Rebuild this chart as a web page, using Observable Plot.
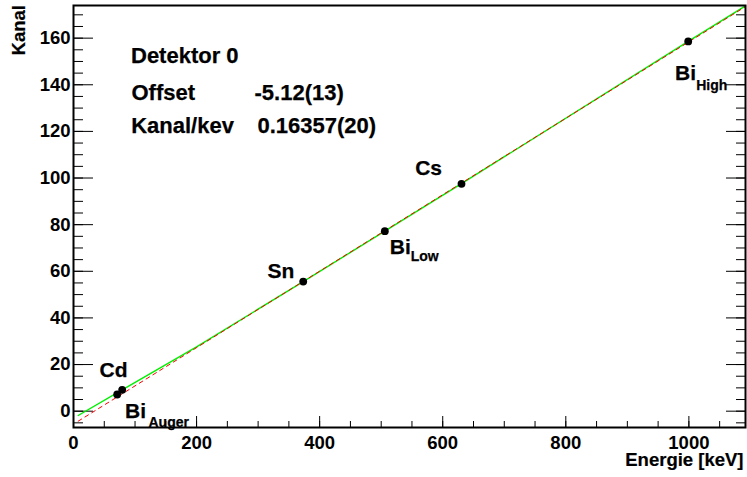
<!DOCTYPE html>
<html><head><meta charset="utf-8">
<script src="https://cdn.jsdelivr.net/npm/d3@7"></script>
<script src="https://cdn.jsdelivr.net/npm/@observablehq/plot@0.6"></script>
<style>html,body{margin:0;padding:0;background:#fff}#chart svg{display:block}</style>
</head><body><div id="chart"></div>
<script>
// ---- data ----
const sourceNames = ["Bi_Auger", "Cd", "Sn", "Bi_Low", "Cs", "Bi_High"];
const energies   = [71.0, 79.1, 373.3, 505.9, 630.5, 998.9];
const channels   = [7.15, 9.17, 55.6, 77.2, 97.5, 158.6];
const labelMain  = ["Bi", "Cd", "Sn", "Bi", "Cs", "Bi"];
const labelSub   = ["Auger", "", "", "Low", "", "High"];

const redFitE   = [7.6, 1092];
const redFitK   = [-4.3, 173.5];
const greenFitE = [7.6, 79.1, 200, 373.3, 505.9, 630.5, 998.9, 1092];
const greenFitK = [-1.85, 9.17, 27.6, 55.6, 77.2, 97.6, 158.6, 173.8];

const xMajorTicks = [0, 200, 400, 600, 800, 1000];
const xMinorTicks = d3.range(0, 1051, 50);
const yMajorTicks = [0, 20, 40, 60, 80, 100, 120, 140, 160];
const yMinorTicks = d3.range(-5, 171, 5);

const infoLabels = ["Detektor 0", "Offset", "Kanal/kev"];
const infoValues = ["", "-5.12(13)", "0.16357(20)"];
const xTitle = "Energie [keV]";
const yTitle = "Kanal";

// ---- tables ----
const pts = sourceNames.map((n, i) => ({name: n, e: energies[i], k: channels[i], main: labelMain[i], sub: labelSub[i]}));
const red = redFitE.map((e, i) => ({e, k: redFitK[i]}));
const green = greenFitE.map((e, i) => ({e, k: greenFitK[i]}));
const pick = (n) => pts.filter(d => d.name === n);

const FONT = "'Liberation Sans', Arial, Helvetica, sans-serif";
const lab = (n, field, dx, dy, size) => Plot.text(pick(n), {
  x: "e", y: "k", text: field, dx, dy, textAnchor: "start", lineAnchor: "bottom",
  fontSize: size, fontWeight: "bold", fill: "black", stroke: "black", strokeWidth: 0.25
});
const blank = () => "";
const intFmt = d3.format("d");
const info = (t, dx, dy) => Plot.text([t], {frameAnchor: "top-left", dx, dy, textAnchor: "start", lineAnchor: "bottom", fontSize: 22, fontWeight: "bold", fill: "black", stroke: "black", strokeWidth: 0.25});

const chart = Plot.plot({
  width: 747, height: 477,
  marginLeft: 73, marginRight: 2, marginTop: 5, marginBottom: 50,
  style: {fontFamily: FONT, fontWeight: "bold", background: "white", color: "black"},
  x: {domain: [0, 1092], axis: null},
  y: {domain: [-7, 174], axis: null},
  marks: [
    // ticks (inward, ROOT style)
    Plot.axisX({ticks: xMinorTicks, tickSize: -6, tickFormat: blank, stroke: "black", label: null}),
    Plot.axisX({ticks: xMajorTicks, tickSize: -11, tickFormat: blank, stroke: "black", label: null}),
    Plot.axisY({ticks: yMinorTicks, anchor: "left", tickSize: -10, tickFormat: blank, stroke: "black", label: null}),
    Plot.axisY({ticks: yMajorTicks, anchor: "left", tickSize: -20, tickFormat: blank, stroke: "black", label: null}),
    Plot.axisY({ticks: yMinorTicks, anchor: "right", tickSize: -10, tickFormat: blank, stroke: "black", label: null}),
    Plot.axisY({ticks: yMajorTicks, anchor: "right", tickSize: -20, tickFormat: blank, stroke: "black", label: null}),
    // tick labels
    Plot.axisX({ticks: xMajorTicks, tickSize: 0, tickPadding: 8.5, tickFormat: intFmt, fontSize: 18.5, fontWeight: "bold", fill: "black", stroke: "black", strokeWidth: 0.2, label: null}),
    Plot.axisY({ticks: yMajorTicks, anchor: "left", tickSize: 0, tickPadding: 3, tickFormat: intFmt, fontSize: 18.5, fontWeight: "bold", fill: "black", stroke: "black", strokeWidth: 0.2, label: null}),
    // fits
    Plot.line(green, {x: "e", y: "k", stroke: "#00f000", strokeWidth: 1.4}),
    Plot.line(red, {x: "e", y: "k", stroke: "#ff0000", strokeWidth: 1, strokeDasharray: "4,4"}),
    // points
    Plot.dot(pts, {x: "e", y: "k", r: 3.9, fill: "black", stroke: "none"}),
    // point labels
    lab("Bi_Auger", "main", 7.8, 23.7, 21),
    lab("Bi_Auger", "sub", 31.3, 32.7, 14),
    lab("Cd", "main", -22.7, -12.3, 21),
    lab("Sn", "main", -35.7, -4, 21),
    lab("Bi_Low", "main", 4.9, 22.6, 21),
    lab("Bi_Low", "sub", 25.9, 30, 14),
    lab("Cs", "main", -46.3, -9.3, 21),
    lab("Bi_High", "main", -13.2, 39, 21),
    lab("Bi_High", "sub", 8, 48.3, 14),
    // info box
    info(infoLabels[0], 57.5, 57.3),
    info(infoLabels[1], 58, 94.3),
    info(infoValues[1], 181, 94.3),
    info(infoLabels[2], 57.7, 127.3),
    info(infoValues[2], 184, 127.3),
    // axis titles
    Plot.text([yTitle], {frameAnchor: "top-left", dx: -54, dy: -0.5, rotate: -90, textAnchor: "end", lineAnchor: "middle", fontSize: 18.5, fontWeight: "bold", fill: "black", stroke: "black", strokeWidth: 0.2}),
    Plot.text([xTitle], {frameAnchor: "bottom-right", dx: -2, dy: 38.5, textAnchor: "end", lineAnchor: "bottom", fontSize: 18.5, fontWeight: "bold", fill: "black", stroke: "black", strokeWidth: 0.2}),
    // frame
    Plot.frame({stroke: "black", strokeWidth: 2})
  ]
});
document.getElementById("chart").appendChild(chart);
</script>
</body></html>
